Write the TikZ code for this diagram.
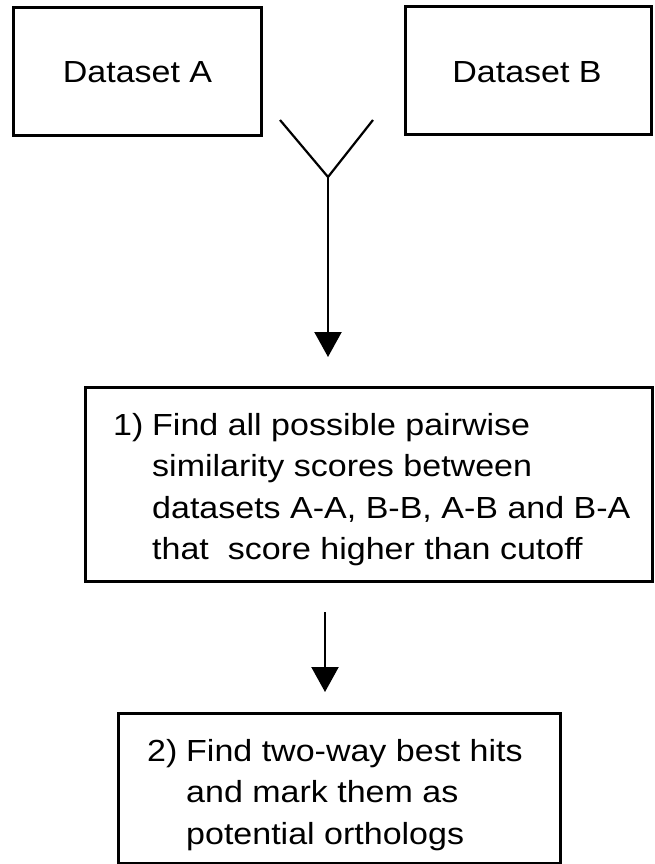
\documentclass[tikz,border=0pt]{standalone}
\usepackage{fontspec}
\setmainfont[FakeStretch=1.115]{Liberation Sans}
\usetikzlibrary{arrows.meta}
\tikzset{
  boxstyle/.style={draw=black, line width=3pt, rectangle, inner sep=0pt},
  txt/.style={inner sep=0pt, font=\fontsize{30.5}{41.5}\selectfont},
  fork/.style={line width=2.2pt, black},
  arr/.style={line width=2.2pt, black, -{Triangle[width=27pt,length=25pt]}}
}
\begin{document}
\begin{tikzpicture}[x=1pt,y=-1pt]
\useasboundingbox (0,0) rectangle (654,864);
% dataset boxes
\node[boxstyle, minimum width=248pt, minimum height=127pt] (dsA) at (137,71.5) {};
\node[txt] (lblA) at (137.5,72.5) {Dataset A};
\node[boxstyle, minimum width=246pt, minimum height=127pt] (dsB) at (528,70.5) {};
\node[txt] (lblB) at (527,72.5) {Dataset B};
% fork
\coordinate (yl) at (280,120);
\coordinate (yr) at (373,120);
\coordinate (yj) at (328,177);
\coordinate (tip1) at (328,357);
\draw[fork] (yl) -- (yj) -- (yr);
\draw[arr] (yj) -- (tip1);
% step 1
\node[boxstyle, minimum width=567pt, minimum height=194pt] (s1) at (368.5,484) {};
\node[txt, anchor=base west] (s1t) at (113,435) {\begin{tabular}[t]{@{}l@{}l@{}}
\makebox[39pt][l]{1)} & Find all possible pairwise\\
 & similarity scores between\\
 & datasets A-A, B-B, A-B and B-A\\
 & that\ \ score higher than cutoff
\end{tabular}};
% arrow 2
\coordinate (a2s) at (325,612);
\coordinate (tip2) at (325,692);
\draw[arr] (a2s) -- (tip2);
% step 2
\node[boxstyle, minimum width=442pt, minimum height=150pt] (s2) at (339,788) {};
\node[txt, anchor=base west] (s2t) at (147,761) {\begin{tabular}[t]{@{}l@{}l@{}}
\makebox[39pt][l]{2)} & Find two-way best hits\\
 & and mark them as\\
 & potential orthologs
\end{tabular}};
\end{tikzpicture}
\end{document}
